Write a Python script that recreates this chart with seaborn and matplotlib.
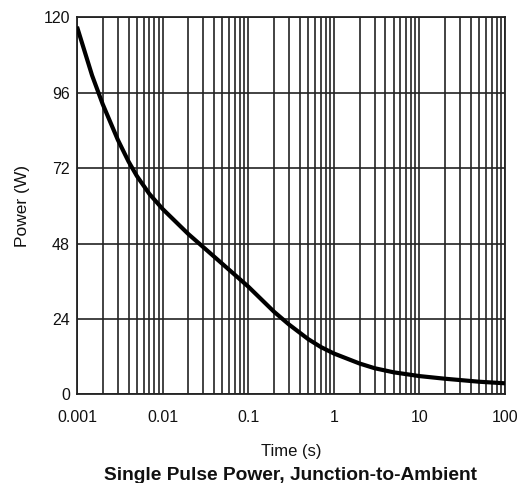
import matplotlib
matplotlib.use("Agg")
import matplotlib.pyplot as plt
from matplotlib.ticker import LogLocator, FixedLocator, NullFormatter
import seaborn as sns
import pandas as pd

time_s = [0.001, 0.0015, 0.002, 0.003, 0.004, 0.005, 0.007, 0.01, 0.02, 0.03, 0.05,
          0.1, 0.2, 0.3, 0.5, 0.7, 1, 2, 3, 5, 10, 20, 50, 100]
power_w = [117, 101.5, 92.3, 81.0, 74.1, 69.5, 63.8, 59.0, 51.0, 46.8, 41.5,
           34.3, 26.3, 22.2, 17.6, 15.1, 13.0, 9.8, 8.3, 7.0, 5.8, 4.95, 4.0, 3.5]
x_ticks = [0.001, 0.01, 0.1, 1, 10, 100]
x_tick_labels = ["0.001", "0.01", "0.1", "1", "10", "100"]
y_ticks = [0, 24, 48, 72, 96, 120]

sns.set_style("white")
plt.rcParams['font.family'] = ['Liberation Sans', 'DejaVu Sans']

df = pd.DataFrame({"Time (s)": time_s, "Power (W)": power_w})

fig = plt.figure(figsize=(5.19, 4.83), dpi=100)
ax = fig.add_axes([77/519, 1-394.3/483, (505-77)/519, (394.3-17.3)/483])

sns.lineplot(data=df, x="Time (s)", y="Power (W)", ax=ax, color="black",
             linewidth=3.0, zorder=5, solid_joinstyle="round", solid_capstyle="butt")

ax.set_xscale("log")
ax.set_xlim(0.001, 100)
ax.set_ylim(0, 120)

ax.xaxis.set_major_locator(FixedLocator(x_ticks))
ax.set_xticklabels(x_tick_labels)
ax.xaxis.set_minor_locator(LogLocator(base=10, subs=range(2, 10), numticks=20))
ax.xaxis.set_minor_formatter(NullFormatter())
ax.set_yticks(y_ticks)
ax.set_yticklabels([str(v) for v in y_ticks])

ax.grid(True, which="major", axis="both", color="#222222", linewidth=1.2)
ax.grid(True, which="minor", axis="x", color="#222222", linewidth=1.2)
ax.set_axisbelow(True)

for s in ax.spines.values():
    s.set_color("#222222")
    s.set_linewidth(1.3)

ax.tick_params(axis="x", which="both", length=0, pad=11, labelsize=11.5, colors="#111111")
ax.tick_params(axis="y", which="both", length=0, pad=5, labelsize=11.5, colors="#111111")

ax.set_xlabel("Time (s)", fontsize=12, labelpad=14, color="#111111")
ax.set_ylabel("Power (W)", fontsize=12.5, labelpad=10, color="#111111")

fig.text((77+505)/2/519, 1-476/483, "Single Pulse Power, Junction-to-Ambient",
         ha="center", va="center", fontsize=13.8, fontweight="bold", color="#111111")

fig.savefig("out.png", dpi=100)
